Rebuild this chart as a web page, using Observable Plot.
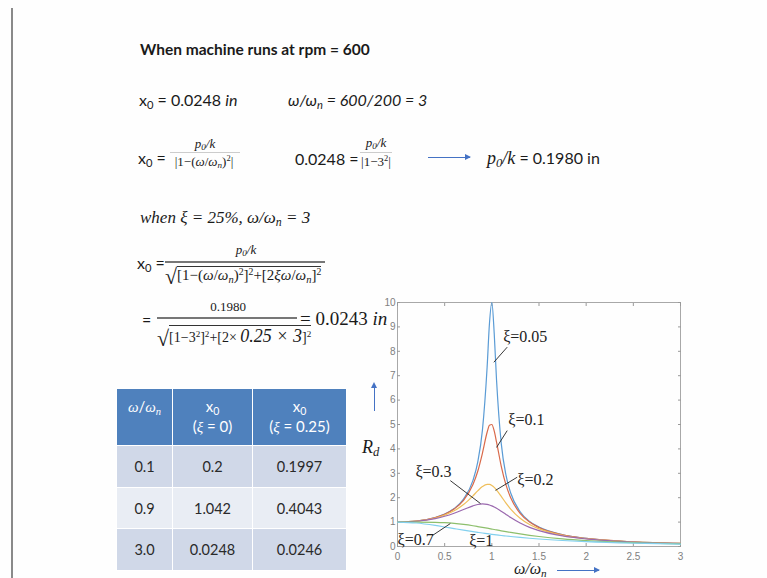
<!DOCTYPE html>
<html>
<head>
<meta charset="utf-8">
<script src="https://cdn.jsdelivr.net/npm/d3@7"></script>
<script src="https://cdn.jsdelivr.net/npm/@observablehq/plot@0.6"></script>
<style>
  html, body { margin: 0; padding: 0; background: #fefefe; }
  #slide { position: relative; width: 767px; height: 578px; overflow: hidden; background: #fefefe; font-family: Lato, "Open Sans", sans-serif; color: #1a1a1a; }
  .a { position: absolute; white-space: nowrap; line-height: 1; }
  .serif { font-family: "Liberation Serif", "DejaVu Serif", serif; }
  .it { font-style: italic; }
  sub { font-size: 0.7em; vertical-align: -0.25em; line-height: 0; }
  sup { font-size: 0.65em; vertical-align: 0.55em; line-height: 0; }
  .bar { position: absolute; background: #666; }
  .arrowR { position: absolute; height: 1px; background: #4472c4; }
  .arrowR::after { content: ""; position: absolute; right: -1px; top: -3px; border-left: 6px solid #4472c4; border-top: 3.5px solid transparent; border-bottom: 3.5px solid transparent; }
  .arrowU { position: absolute; width: 1px; background: #4472c4; }
  .arrowU::after { content: ""; position: absolute; top: -2px; left: -3px; border-bottom: 6px solid #4472c4; border-left: 3.5px solid transparent; border-right: 3.5px solid transparent; }
  #chart { position: absolute; left: 362px; top: 292px; }
  table.tb { position: absolute; left: 116px; top: 388px; border-collapse: collapse; font-family: Lato, sans-serif; font-size: 14.5px; color: #2a2a2a; }
  table.tb td, table.tb th { border: 1.5px solid #fff; text-align: center; padding: 0; }
  table.tb th { background: #4f81bd; color: #fff; font-weight: normal; vertical-align: top; padding-top: 7px; line-height: 1.35; font-size: 15px; }
  table.tb tr.r1 td, table.tb tr.r3 td { background: #d0d8e8; }
  table.tb tr.r2 td { background: #e9edf4; }
  .root { display: inline-block; border-top: 1px solid #333; padding-top: 1px; }
</style>
</head>
<body>
<div id="slide">
  <div class="a" style="left:11px;top:8px;width:1.5px;height:572px;background:#8a8a8a"></div>

  <div class="a" style="left:140px;top:42px;font-size:15.5px;font-weight:bold">When machine runs at rpm = 600</div>

  <div class="a" style="left:139px;top:92px;font-size:16px">x<sub>0</sub> = 0.0248 <i>in</i></div>
  <div class="a it" style="left:288px;top:92px;font-size:16px">ω/ω<sub>n</sub> = 600/200 = 3</div>

  <div class="a" style="left:138px;top:150px;font-size:16px">x<sub>0</sub> =</div>
  <div class="a serif it" style="left:168px;top:137px;width:74px;text-align:center;font-size:13px">p<sub>0</sub>/k</div>
  <div class="bar" style="left:170px;top:152px;width:70px;height:1px;background:#ccc"></div>
  <div class="a serif" style="left:164px;top:155px;width:80px;text-align:center;font-size:13px">|1−(<i>ω</i>/<i>ω<sub>n</sub></i>)<sup>2</sup>|</div>

  <div class="a" style="left:295px;top:151px;font-size:16px">0.0248 =</div>
  <div class="a serif it" style="left:356px;top:136px;width:40px;text-align:center;font-size:13px">p<sub>0</sub>/k</div>
  <div class="bar" style="left:360px;top:152px;width:32px;height:1px;background:#ccc"></div>
  <div class="a serif" style="left:354px;top:155px;width:44px;text-align:center;font-size:13px">|1−3<sup>2</sup>|</div>

  <div class="arrowR" style="left:428px;top:157px;width:42px"></div>
  <div class="a" style="left:487px;top:149px;font-size:16px"><span class="serif it" style="font-size:18px">p<sub>0</sub>/k</span> = 0.1980 in</div>

  <div class="a serif it" style="left:140px;top:209px;font-size:17px">when ξ =  25%, ω/ω<sub>n</sub> = 3</div>

  <div class="a" style="left:137px;top:255px;font-size:16px">x<sub>0</sub> =</div>
  <div class="a serif it" style="left:213px;top:243px;width:66px;text-align:center;font-size:13px">p<sub>0</sub>/k</div>
  <div class="bar" style="left:165px;top:261px;width:160px;height:2px;background:#777"></div>
  <div class="a serif" style="left:165px;top:266px;font-size:15px"><span style="font-size:22px;vertical-align:-4px">√</span><span class="root">[1−(<i>ω</i>/<i>ω<sub>n</sub></i>)<sup>2</sup>]<sup>2</sup>+[2<i>ξω</i>/<i>ω<sub>n</sub></i>]<sup>2</sup></span></div>

  <div class="a" style="left:142px;top:312px;font-size:16px">=</div>
  <div class="a serif" style="left:198px;top:300px;width:60px;text-align:center;font-size:13px">0.1980</div>
  <div class="bar" style="left:157px;top:317px;width:140px;height:2px;background:#777"></div>
  <div class="a serif" style="left:157px;top:325px;font-size:14px"><span style="font-size:22px;vertical-align:-4px">√</span><span class="root">[1−3<sup>2</sup>]<sup>2</sup>+[2× <i style="font-size:18px">0.25 × 3</i>]<sup>2</sup></span></div>
  <div class="a serif" style="left:300px;top:309px;font-size:19px">= 0.0243 <i>in</i></div>

  <table class="tb">
    <tr style="height:57px">
      <th style="width:55px"><span class="serif it">ω</span>/<span class="serif it">ω<sub>n</sub></span></th>
      <th style="width:79px">x<sub>0</sub><br>(<span class="serif it">ξ</span> = 0)</th>
      <th style="width:93px">x<sub>0</sub><br>(<span class="serif it">ξ</span> = 0.25)</th>
    </tr>
    <tr class="r1" style="height:42px"><td>0.1</td><td>0.2</td><td>0.1997</td></tr>
    <tr class="r2" style="height:41px"><td>0.9</td><td>1.042</td><td>0.4043</td></tr>
    <tr class="r3" style="height:42px"><td>3.0</td><td>0.0248</td><td>0.0246</td></tr>
  </table>

  <div id="chart"></div>

  <div class="a serif it" style="left:362px;top:438px;font-size:18px">R<sub>d</sub></div>
  <div class="arrowU" style="left:374px;top:384px;height:27px"></div>
  <div class="a serif it" style="left:514px;top:561px;font-size:16px">ω/ω<sub>n</sub></div>
  <div class="arrowR" style="left:557px;top:570px;width:42px"></div>
</div>

<script>
// frequency ratio ω/ωn (x values)
const ratio = [0, 0.2, 0.4, 0.5, 0.6, 0.7, 0.8, 0.85, 0.9, 0.95, 0.975, 1, 1.025, 1.05, 1.1, 1.15, 1.2, 1.3, 1.4, 1.5, 1.75, 2, 2.5, 3];
// Rd values
const rdXi005 = [1, 1.041, 1.189, 1.330, 1.556, 1.943, 2.712, 3.446, 4.757, 7.347, 9.150, 10, 8.747, 6.815, 4.218, 2.921, 2.193, 1.424, 1.031, 0.794, 0.483, 0.333, 0.190, 0.125];
const rdXi01  = [1, 1.041, 1.185, 1.322, 1.536, 1.891, 2.538, 3.073, 3.821, 4.682, 4.971, 5.0, 4.736, 4.279, 3.288, 2.525, 1.995, 1.356, 1.0, 0.778, 0.478, 0.330, 0.190, 0.125];
const rdXi02  = [1, 1.038, 1.169, 1.288, 1.463, 1.719, 2.076, 2.279, 2.457, 2.549, 2.544, 2.5, 2.421, 2.313, 2.051, 1.780, 1.536, 1.157, 0.900, 0.721, 0.459, 0.322, 0.187, 0.124];
const rdXi03  = [1, 1.034, 1.145, 1.238, 1.362, 1.514, 1.667, 1.722, 1.747, 1.729, 1.703, 1.667, 1.621, 1.567, 1.444, 1.313, 1.185, 0.960, 0.784, 0.649, 0.432, 0.309, 0.183, 0.122];
const rdXi07  = [1, 1.0, 0.990, 0.975, 0.947, 0.905, 0.850, 0.818, 0.785, 0.750, 0.732, 0.714, 0.696, 0.679, 0.643, 0.609, 0.576, 0.514, 0.458, 0.409, 0.312, 0.244, 0.158, 0.111];
const rdXi1   = [1, 0.962, 0.862, 0.8, 0.735, 0.671, 0.610, 0.581, 0.552, 0.526, 0.513, 0.5, 0.488, 0.476, 0.452, 0.431, 0.410, 0.372, 0.338, 0.308, 0.246, 0.2, 0.138, 0.1];

const seriesNames = ["ξ=0.05", "ξ=0.1", "ξ=0.2", "ξ=0.3", "ξ=0.7", "ξ=1"];
const seriesValues = [rdXi005, rdXi01, rdXi02, rdXi03, rdXi07, rdXi1];

// tick labels
const xTicks = [0, 0.5, 1, 1.5, 2, 2.5, 3];
const yTicks = [0, 1, 2, 3, 4, 5, 6, 7, 8, 9, 10];

// curve annotations (label anchor in data units, and leader line ends)
const labelText = ["ξ=0.05", "ξ=0.1", "ξ=0.2", "ξ=0.3", "ξ=0.7", "ξ=1"];
const labelR    = [1.12, 1.175, 1.27, 0.19, 0.0, 0.76];
const labelRd   = [8.6, 5.2, 2.75, 3.05, 0.27, 0.22];
const leaderFromR  = [1.163, 1.163, 1.269, 0.56, 0.37];
const leaderFromRd = [8.17, 4.75, 2.84, 2.70, 0.45];
const leaderToR    = [1.021, 1.05, 1.039, 0.88, 0.56];
const leaderToRd   = [7.55, 4.06, 2.30, 1.76, 0.94];

// styles
const seriesColors = ["#5a9bd5", "#d9694a", "#efbf5c", "#9a68ae", "#8dbf6c", "#82d0ee"];

const rows = seriesNames.flatMap((name, s) => ratio.map((x, i) => ({r: x, rd: seriesValues[s][i], xi: name})));
const labels = labelText.map((t, i) => ({t, r: labelR[i], rd: labelRd[i]}));
const leaders = leaderFromR.map((_, i) => ({x1: leaderFromR[i], y1: leaderFromRd[i], x2: leaderToR[i], y2: leaderToRd[i]}));

const fmt = d => String(d);
const chart = Plot.plot({
  width: 330,
  height: 286,
  marginLeft: 35,
  marginRight: 12,
  marginTop: 10,
  marginBottom: 32,
  style: {background: "transparent", fontFamily: "Liberation Sans, Arial, sans-serif", fontSize: "10px", color: "#777"},
  x: {domain: [0, 3]},
  y: {domain: [0, 10]},
  color: {domain: seriesNames, range: seriesColors},
  marks: [
    Plot.frame({stroke: "#a8a8a8"}),
    Plot.axisX({ticks: xTicks, tickFormat: fmt, tickSize: -3, tickPadding: 9, stroke: "#999", fill: "#808080", fontSize: 10, label: null}),
    Plot.axisX({anchor: "top", ticks: xTicks, tickFormat: () => "", tickSize: -3, stroke: "#999", label: null}),
    Plot.axisY({ticks: yTicks, tickFormat: fmt, tickSize: -3, tickPadding: 5, stroke: "#999", fill: "#808080", fontSize: 10, label: null}),
    Plot.axisY({anchor: "right", ticks: yTicks, tickFormat: () => "", tickSize: -3, stroke: "#999", label: null}),
    Plot.line(rows, {x: "r", y: "rd", z: "xi", stroke: "xi", curve: "monotone-x", strokeWidth: 1.2}),
    Plot.link(leaders, {x1: "x1", y1: "y1", x2: "x2", y2: "y2", stroke: "#222", strokeWidth: 0.9}),
    Plot.text(labels, {x: "r", y: "rd", text: "t", textAnchor: "start", fontSize: 16, fontFamily: "Liberation Serif, DejaVu Serif, serif", fill: "#222", clip: false})
  ]
});
document.getElementById("chart").appendChild(chart);
</script>
</body>
</html>
